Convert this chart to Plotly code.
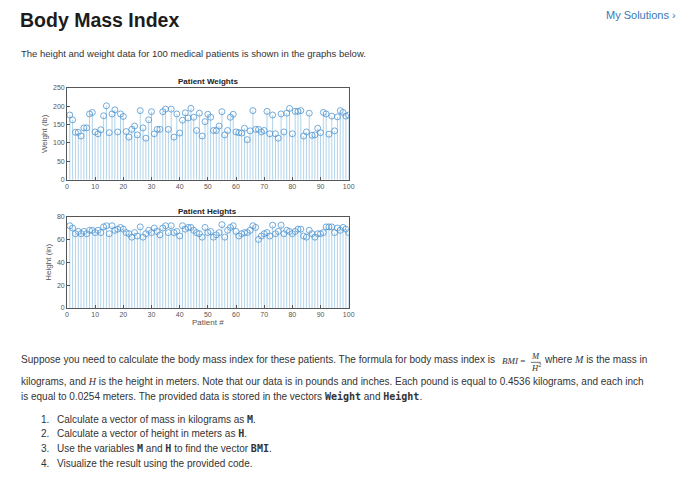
import plotly.graph_objects as go

patient = list(range(1, 101))
weight_lb = [176, 163, 129, 129, 119, 141, 141, 179, 183, 130,
             125, 136, 174, 201, 128, 179, 190, 130, 179, 172,
             131, 116, 137, 146, 122, 188, 141, 113, 163, 185,
             125, 137, 137, 185, 192, 137, 192, 116, 179, 127,
             162, 182, 168, 194, 170, 134, 181, 119, 158, 178,
             170, 134, 134, 146, 185, 122, 134, 170, 178, 130,
             128, 127, 140, 109, 133, 188, 137, 137, 130, 134,
             186, 125, 176, 125, 113, 179, 130, 181, 194, 125,
             186, 186, 188, 119, 130, 181, 121, 122, 140, 128,
             183, 179, 124, 173, 133, 171, 188, 183, 173, 176]
height_in = [72, 70, 65, 67, 65, 67, 65, 68, 68, 66,
             68, 66, 71, 72, 65, 72, 68, 69, 70.5, 69,
             66, 65, 62, 66, 63, 71, 62, 65, 68, 66,
             70, 67, 64, 70, 72, 66, 72, 66, 67, 63,
             72, 69, 70.5, 70.5, 68, 66, 65, 62, 70.5, 66,
             67, 62, 64, 66, 73, 62, 68, 70.5, 72, 67,
             63, 65, 66, 66, 68, 72, 70.5, 60, 63, 65,
             66, 63, 72.5, 65, 67, 72.5, 65, 68, 67, 65,
             67, 69, 69, 63, 62, 68, 65, 62, 65, 65,
             66, 71, 71, 71, 66, 70, 68, 70.5, 69, 66]
weight_ticks = [0, 50, 100, 150, 200, 250]
height_ticks = [0, 20, 40, 60, 80]
x_ticks = list(range(0, 101, 10))

STEM = "rgba(0,114,189,0.45)"
MARK = "rgb(80,150,208)"
AX = "#555555"
TXT = "#333333"
FONT = "Liberation Sans, Arial, sans-serif"
SERIF = "Liberation Serif, Times New Roman, serif"

fig = go.Figure()

def stem(y, xa, ya):
    fig.add_trace(go.Scatter(
        x=patient, y=y, xaxis=xa, yaxis=ya, mode="markers",
        marker=dict(symbol="circle-open", size=6, color=MARK, line=dict(width=0.8, color=MARK)),
        error_y=dict(type="data", symmetric=False, array=[0] * len(y), arrayminus=y,
                     color=STEM, thickness=0.7, width=0),
        showlegend=False, hoverinfo="skip"))

stem(weight_lb, "x", "y")
stem(height_in, "x2", "y2")

axis_common = dict(showline=True, linecolor=AX, linewidth=0.8, mirror=True, ticks="inside",
                   ticklen=3, tickcolor=AX, showgrid=False, zeroline=False,
                   tickfont=dict(family=FONT, size=7, color=AX))

fig.update_layout(
    width=700, height=492, margin=dict(l=0, r=0, t=0, b=0),
    paper_bgcolor="white", plot_bgcolor="white",
    font=dict(family=FONT, color=TXT),
    xaxis=dict(domain=[0.0939, 0.501], range=[0, 100], tickvals=x_ticks, anchor="y", **axis_common),
    yaxis=dict(domain=[0.6376, 0.8272], range=[0, 250], tickvals=weight_ticks, anchor="x",
               title=dict(text="Weight (lb)", font=dict(family=FONT, size=8, color=AX), standoff=4),
               **axis_common),
    xaxis2=dict(domain=[0.0939, 0.501], range=[0, 100], tickvals=x_ticks, anchor="y2",
                title=dict(text="Patient #", font=dict(family=FONT, size=8, color=AX), standoff=2),
                **axis_common),
    yaxis2=dict(domain=[0.3734, 0.5616], range=[0, 80], tickvals=height_ticks, anchor="x2",
                title=dict(text="Height (in)", font=dict(family=FONT, size=8, color=AX), standoff=4),
                **axis_common),
)

def txt(x, y, text, size=10, color=TXT, anchor="left", family=FONT, **kw):
    fig.add_annotation(x=x, y=y, xref="paper", yref="paper", text=text, showarrow=False,
                       xanchor=anchor, yanchor="middle", borderpad=0,
                       font=dict(family=family, size=size, color=color), **kw)

def P(px, py):
    return px / 700, 1 - py / 492

# plot titles
txt(*P(208, 79), "<b>Patient Weights</b>", size=8, color="#222222", anchor="center")
txt(*P(208, 210), "<b>Patient Heights</b>", size=8, color="#222222", anchor="center")

# page header
txt(*P(17, 16), "<b>Body Mass Index</b>", size=19.5, color="#1c1c1c")
txt(*P(683, 11), "My Solutions \u203a", size=11, color="#3a78b5", anchor="right")
txt(*P(18, 50), "The height and weight data for 100 medical patients is shown in the graphs below.", size=9.5)

MONO = "<span style=\"font-family:'DejaVu Sans Mono'\"><b>{}</b></span>"
ITAL = "<span style=\"font-family:'Liberation Serif'\"><i>{}</i></span>"

txt(*P(18, 361), "Suppose you need to calculate the body mass index for these patients. The formula for body mass index is", size=10.05)
txt(*P(505, 362), "<i>BMI</i> =", size=9, family=SERIF, anchor="left")
txt(*P(540, 357.5), "<i>M</i>", size=8.5, family=SERIF, anchor="center")
txt(*P(540, 369), "<i>H</i><sup>2</sup>", size=8.5, family=SERIF, anchor="center")
fig.add_shape(type="line", xref="paper", yref="paper", x0=535/700, x1=545/700,
              y0=1 - 363.5/492, y1=1 - 363.5/492, line=dict(color=TXT, width=0.7))
txt(*P(547, 361), "where " + ITAL.format("M") + " is the mass in", size=10)
txt(*P(18, 383), "kilograms, and " + ITAL.format("H") + " is the height in meters. Note that our data is in pounds and inches. Each pound is equal to 0.4536 kilograms, and each inch", size=10)
txt(*P(18, 398.5), "is equal to 0.0254 meters. The provided data is stored in the vectors "
    + MONO.format("Weight") + " and " + MONO.format("Height") + ".", size=10)

items = ["Calculate a vector of mass in kilograms as " + MONO.format("M") + ".",
         "Calculate a vector of height in meters as " + MONO.format("H") + ".",
         "Use the variables " + MONO.format("M") + " and " + MONO.format("H")
         + " to find the vector " + MONO.format("BMI") + ".",
         "Visualize the result using the provided code."]
item_y = [421, 436, 451, 466]
for i, (t, yy) in enumerate(zip(items, item_y)):
    txt(*P(49, yy), f"{i + 1}.", size=10, anchor="right")
    txt(*P(55, yy), t, size=10)

fig.write_html("out.html", config={"displayModeBar": False},
               post_script="document.body.style.margin='0';document.body.style.overflow='hidden';")
